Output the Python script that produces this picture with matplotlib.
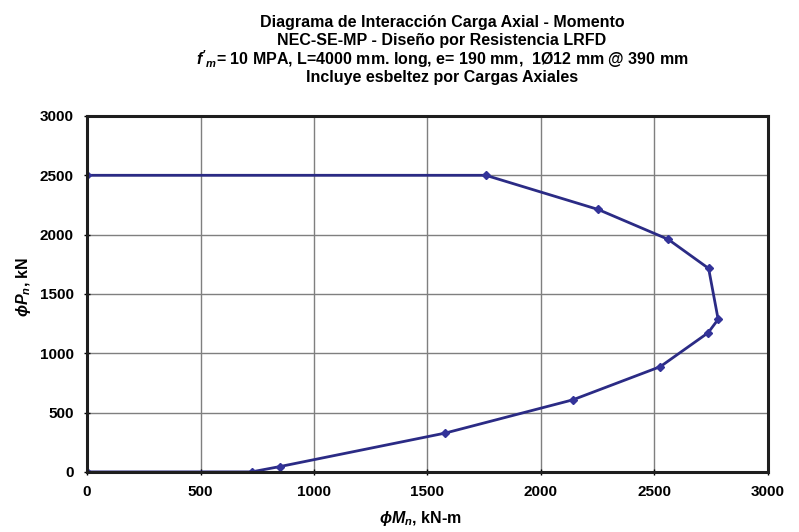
import matplotlib
matplotlib.use("Agg")
import matplotlib.pyplot as plt

# Interaction diagram points (phi*Mn in kN-m, phi*Pn in kN)
moment_knm = [0, 1757, 2252, 2561, 2739, 2781, 2737, 2526, 2140, 1578, 850, 725, 0]
axial_kn = [2500, 2500, 2212, 1960, 1715, 1286, 1173, 887, 607, 327, 45, 0, 0]

x_ticks = [0, 500, 1000, 1500, 2000, 2500, 3000]
y_ticks = [0, 500, 1000, 1500, 2000, 2500, 3000]

title_lines = [
    "Diagrama de Interacción Carga Axial - Momento",
    "NEC-SE-MP - Diseño por Resistencia LRFD",
    "$f'_m$= 10 MPA, L=4000 mm. long, e= 190 mm,  1Ø12 mm @ 390 mm",
    "Incluye esbeltez por Cargas Axiales",
]

plt.rcParams["font.family"] = ["Liberation Sans", "DejaVu Sans"]
plt.rcParams["mathtext.fontset"] = "custom"
plt.rcParams["mathtext.it"] = "Liberation Sans:italic:bold"
plt.rcParams["mathtext.rm"] = "Liberation Sans:bold"

fig = plt.figure(figsize=(7.99, 5.32), dpi=100)
ax = fig.add_axes([0.109, 0.113, 0.852, 0.669])

ax.plot(moment_knm, axial_kn, color="#2B2B85", lw=2.0,
        marker="D", markersize=4.5, markerfacecolor="#333399", markeredgecolor="#333399")

ax.set_xlim(0, 3000)
ax.set_ylim(0, 3000)
ax.set_xticks(x_ticks)
ax.set_yticks(y_ticks)
ax.grid(True, color="#7f7f7f", lw=1.0)
ax.set_axisbelow(True)
for s in ax.spines.values():
    s.set_linewidth(2.2)
    s.set_color("#1e1e1e")
ax.tick_params(direction="inout", length=5, width=1, labelsize=11, pad=7)
for lbl in ax.get_xticklabels() + ax.get_yticklabels():
    lbl.set_fontweight("bold")

ax.set_xlabel(r"$\phi M_n$, kN-m", fontsize=11.5, fontweight="bold", va="center")
ax.xaxis.set_label_coords(0.49, -0.13)
ax.set_ylabel(r"$\phi P_n$, kN", fontsize=11.5, fontweight="bold", va="center")
ax.yaxis.set_label_coords(-0.093, 0.52)

for i, line in enumerate(title_lines):
    fig.text(0.553, 1 - (22 + i * 18.5) / 532, line, ha="center", va="center",
             fontsize=11.5, fontweight="bold")

fig.savefig("out.png", dpi=100)
